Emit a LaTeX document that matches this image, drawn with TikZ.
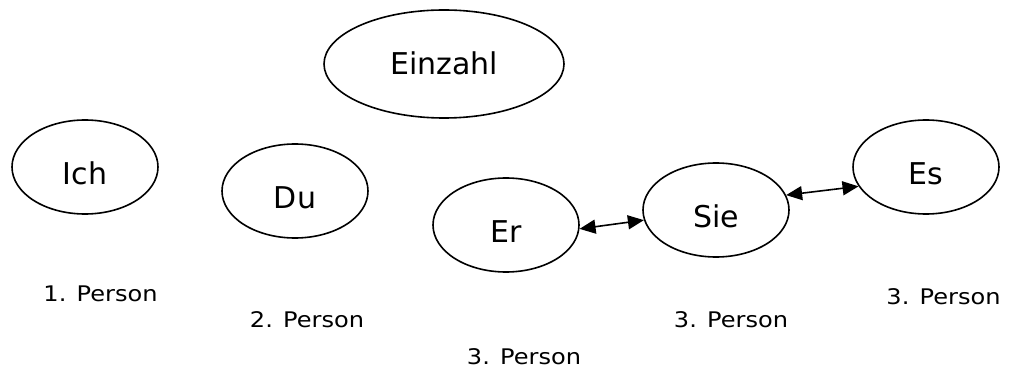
\documentclass[tikz,border=0pt]{standalone}
\usepackage{fontspec}
\setmainfont{DejaVu Sans}
\usetikzlibrary{shapes.geometric,arrows.meta}
\newfontfamily\dvs{DejaVu Sans}
\tikzset{
  ell/.style={draw, ellipse, line width=1.6pt, minimum width=146pt, minimum height=94pt,
    inner sep=0pt, font=\dvs\fontsize{30}{30}\selectfont, text height=35pt, text depth=0pt},
  bigell/.style={ell, minimum width=240pt, minimum height=108pt, text height=22pt},
  plabel/.style={anchor=base, inner sep=0pt, font=\dvs\fontsize{21.5}{22}\selectfont},
  conn/.style={line width=1.6pt, {Triangle[length=16pt,width=14pt]}-{Triangle[length=16pt,width=14pt]}}
}
\newcommand{\pl}[1]{\scalebox{1.12}[1]{#1}}
\begin{document}
\begin{tikzpicture}[x=1pt,y=-1pt]
\useasboundingbox (0,0) rectangle (1011,371);
\node[bigell] (einzahl) at (444,64) {Einzahl};
\node[ell] (ich) at (85,167) {Ich};
\node[ell] (du) at (295,191) {Du};
\node[ell] (er) at (506,225) {Er};
\node[ell] (sie) at (716,210) {Sie};
\node[ell] (es) at (926,167) {Es};
\draw[conn] (er.-3) -- (sie.188);
\draw[conn] (sie.12) -- (es.196);
\node[plabel] (p1) at (100.5,301) {\pl{1. Person}};
\node[plabel] (p2) at (307,327) {\pl{2. Person}};
\node[plabel] (p3) at (524,364) {\pl{3. Person}};
\node[plabel] (p4) at (731,327) {\pl{3. Person}};
\node[plabel] (p5) at (943.5,304) {\pl{3. Person}};
\end{tikzpicture}
\end{document}
